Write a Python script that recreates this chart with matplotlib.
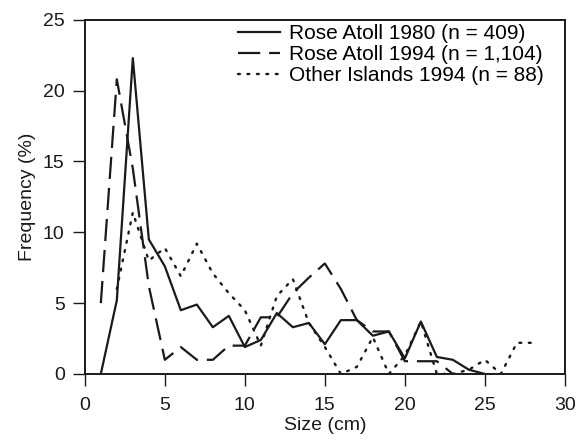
import matplotlib
matplotlib.use('Agg')
import matplotlib.pyplot as plt

plt.rcParams['font.family'] = ['Liberation Sans', 'DejaVu Sans']

# ── Data (size in cm, frequency in %) ──
size_1980 = [1, 2, 3, 4, 5, 6, 7, 8, 9, 10, 11, 12, 13, 14, 15, 16, 17, 18, 19, 20, 21, 22, 23, 24, 25]
freq_1980 = [0, 5.2, 22.3, 9.5, 7.6, 4.5, 4.9, 3.3, 4.1, 1.9, 2.4, 4.3, 3.3, 3.6, 2.1, 3.8, 3.8, 2.7, 3.0, 1.1, 3.7, 1.2, 1.0, 0.3, 0]

size_1994 = [1, 2, 3, 4, 5, 6, 7, 8, 9, 10, 11, 12, 13, 14, 15, 16, 17, 18, 19, 20, 21, 22, 23]
freq_1994 = [5.0, 20.8, 14.5, 6.2, 1.0, 1.9, 1.0, 1.0, 2.0, 2.0, 4.0, 4.0, 5.7, 6.8, 7.8, 6.0, 3.8, 3.0, 3.0, 0.9, 0.9, 0.9, 0]

size_other = [2, 3, 4, 5, 6, 7, 8, 9, 10, 11, 12, 13, 14, 15, 16, 17, 18, 19, 20, 21, 22, 23, 24, 25, 26, 27, 28]
freq_other = [6.0, 11.4, 8.0, 8.9, 6.9, 9.2, 7.1, 5.7, 4.5, 2.0, 5.5, 6.7, 3.6, 1.9, 0, 0.5, 2.6, 0, 1.3, 3.7, 0, 0, 0.3, 1.0, 0, 2.2, 2.2]

labels = ['Rose Atoll 1980 (n = 409)',
          'Rose Atoll 1994 (n = 1,104)',
          'Other Islands 1994 (n = 88)']

FS = 14
FS_LEG = 15

# ── Figure ──
fig = plt.figure(figsize=(5.77, 4.41), dpi=100)
ax = fig.add_axes([0.147, 0.152, 0.832, 0.803])

ink = '#1a1a1a'
ax.plot(size_1980, freq_1980, color=ink, lw=1.6, label=labels[0])
ax.plot(size_1994, freq_1994, color=ink, lw=1.6, linestyle=(0, (10, 4)), label=labels[1])
ax.plot(size_other, freq_other, color=ink, lw=1.7, linestyle=(0, (0.8, 3.2)),
        dash_capstyle='round', label=labels[2])

ax.set_xlim(0, 30)
ax.set_ylim(0, 25)
ax.set_xticks(range(0, 31, 5))
ax.set_yticks(range(0, 26, 5))
ax.tick_params(direction='out', length=8.5, width=1.0, labelsize=FS, colors=ink)
ax.tick_params(axis='x', pad=8)
ax.tick_params(axis='y', pad=6)
for s in ax.spines.values():
    s.set_linewidth(1.4)
    s.set_color(ink)

ax.set_xlabel('Size (cm)', fontsize=FS, color=ink, labelpad=2)
ax.set_ylabel('Frequency (%)', fontsize=FS, color=ink, labelpad=5)

ax.legend(loc='upper right', frameon=False, fontsize=FS_LEG, handlelength=2.0,
          handletextpad=0.45, labelspacing=0.1, borderpad=0.0, borderaxespad=0.2,
          bbox_to_anchor=(0.965, 1.0))

fig.savefig('out.png', dpi=100, facecolor='white')
